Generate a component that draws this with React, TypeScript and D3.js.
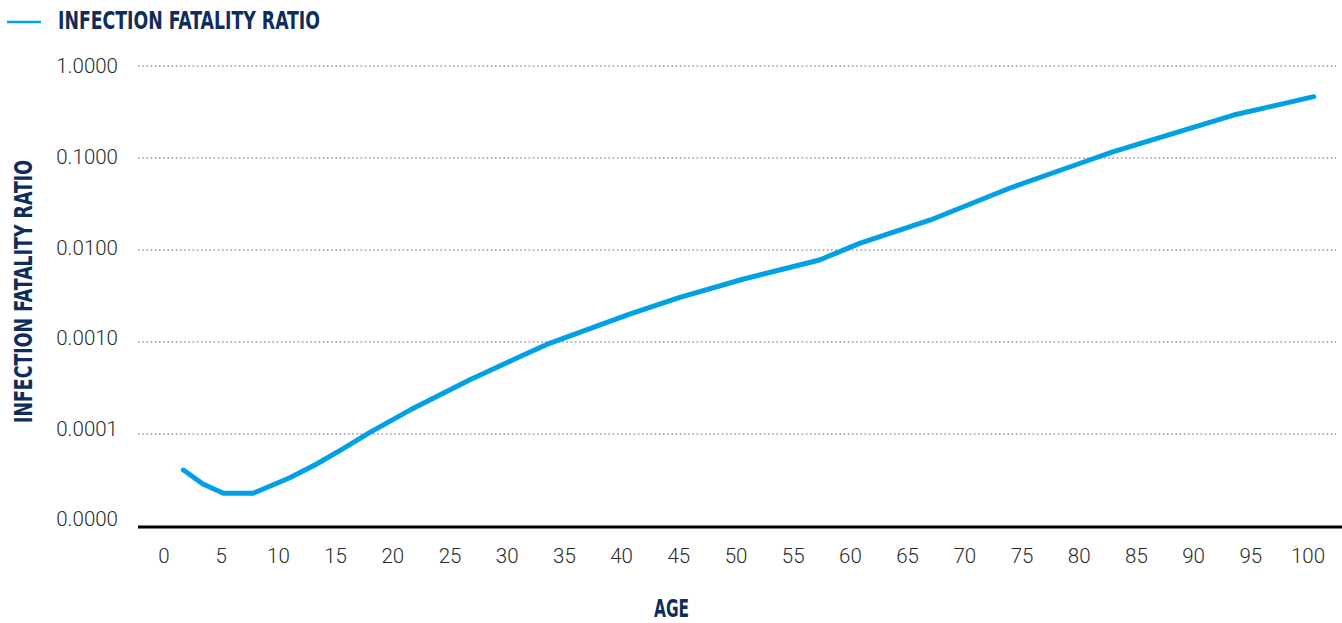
import React from "react";
import * as d3 from "d3";

const ages: number[] = [1.7, 3.4, 5.2, 7.8, 11.0, 13.35, 15.7, 18.0, 21.5, 26.7, 30.8, 33.7, 40.7, 45.1, 50.6, 57.3, 60.8, 67.0, 73.9, 80.9, 83.0, 93.5, 100.5];
const ifr: number[] = [4.06e-5, 2.86e-5, 2.27e-5, 2.27e-5, 3.35e-5, 4.72e-5, 6.99e-5, 1.04e-4, 1.82e-4, 3.86e-4, 6.65e-4, 9.68e-4, 2.01e-3, 3.06e-3, 4.81e-3, 7.78e-3, 1.18e-2, 2.12e-2, 4.69e-2, 9.51e-2, 0.117, 0.293, 0.464];
const yTicks: number[] = [1, 0.1, 0.01, 0.001, 0.0001, 0.00001];
const yTickLabels: string[] = ["1.0000", "0.1000", "0.0100", "0.0010", "0.0001", "0.0000"];
const xTicks: number[] = [0, 5, 10, 15, 20, 25, 30, 35, 40, 45, 50, 55, 60, 65, 70, 75, 80, 85, 90, 95, 100];

const seriesName = "INFECTION FATALITY RATIO";
const yTitle = "INFECTION FATALITY RATIO";
const xTitle = "AGE";

const BLUE = "#00a0e4";
const NAVY = "#0f2d5b";
const titleFont = "'DejaVu Sans Condensed', 'Liberation Sans Narrow', 'DejaVu Sans', sans-serif";
const tickFont = "Roboto, 'Noto Sans', sans-serif";

export default function App() {
  const W = 1342;
  const H = 623;
  const x = d3.scaleLinear().domain([0, 100]).range([164, 1308]);
  const y = d3.scaleLog().domain([1e-5, 1]).range([526, 66]);
  const yLab = d3.scaleLog().domain([1e-5, 1]).range([519, 66]);
  const pts: [number, number][] = ages.map((a, i) => [a, ifr[i]]);
  const line = d3
    .line<[number, number]>()
    .x((d) => x(d[0]))
    .y((d) => y(d[1]))
    .curve(d3.curveLinear);

  return (
    <svg
      width={W}
      height={H}
      style={{ position: "absolute", left: 0, top: 0, background: "#fff" }}
    >
      {/* legend */}
      <line x1={7} x2={41} y1={22} y2={22} stroke={BLUE} strokeWidth={2.7} />
      <text
        x={58}
        y={29.3}
        fontFamily={titleFont}
        fontWeight={700}
        fontSize={24}
        fill={NAVY}
        textLength={262}
        lengthAdjust="spacingAndGlyphs"
      >
        {seriesName}
      </text>

      {/* grid */}
      {yTicks.slice(0, 5).map((t) => (
        <line
          key={"g" + t}
          x1={138}
          x2={1336}
          y1={y(t)}
          y2={y(t)}
          stroke="#9a9a9a"
          strokeWidth={1.6}
          strokeDasharray="1.6,2.6"
        />
      ))}

      {/* y tick labels */}
      {yTicks.map((t, i) => (
        <text
          key={"yl" + t}
          x={118}
          y={yLab(t)}
          dy="0.36em"
          textAnchor="end"
          fontFamily={tickFont}
          fontWeight={300}
          fontSize={20.5}
          fill="#2a2a2a"
        >
          {yTickLabels[i]}
        </text>
      ))}

      {/* x axis */}
      <line x1={138} x2={1342} y1={y(1e-5) + 1} y2={y(1e-5) + 1} stroke="#000" strokeWidth={3} />
      {xTicks.map((t) => (
        <text
          key={"xl" + t}
          x={x(t)}
          y={563}
          textAnchor="middle"
          fontFamily={tickFont}
          fontWeight={300}
          fontSize={20.5}
          fill="#2a2a2a"
        >
          {t}
        </text>
      ))}

      {/* axis titles */}
      <text
        x={671.5}
        y={617}
        textAnchor="middle"
        fontFamily={titleFont}
        fontWeight={700}
        fontSize={24}
        fill={NAVY}
        textLength={35}
        lengthAdjust="spacingAndGlyphs"
      >
        {xTitle}
      </text>
      <text
        transform="translate(31.5,291.5) rotate(-90)"
        x={0}
        y={0}
        textAnchor="middle"
        fontFamily={titleFont}
        fontWeight={700}
        fontSize={24}
        fill={NAVY}
        textLength={263}
        lengthAdjust="spacingAndGlyphs"
      >
        {yTitle}
      </text>

      {/* series */}
      <path
        d={line(pts) || ""}
        fill="none"
        stroke={BLUE}
        strokeWidth={5}
        strokeLinejoin="round"
        strokeLinecap="round"
      />
    </svg>
  );
}
